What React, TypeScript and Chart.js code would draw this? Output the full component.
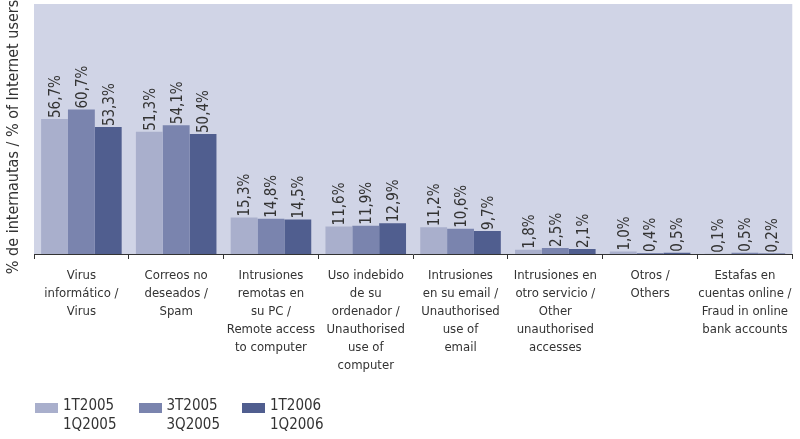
import React, { useEffect, useRef } from "react";
import { Chart, registerables } from "chart.js";

Chart.register(...registerables);

const categories: string[][] = [
  ["Virus", "informático /", "Virus"],
  ["Correos no", "deseados /", "Spam"],
  ["Intrusiones", "remotas en", "su PC /", "Remote access", "to computer"],
  ["Uso indebido", "de su", "ordenador /", "Unauthorised", "use of", "computer"],
  ["Intrusiones", "en su email /", "Unauthorised", "use of", "email"],
  ["Intrusiones en", "otro servicio /", "Other", "unauthorised", "accesses"],
  ["Otros /", "Others"],
  ["Estafas en", "cuentas online /", "Fraud in online", "bank accounts"],
];

const seriesLabels: string[][] = [
  ["1T2005", "1Q2005"],
  ["3T2005", "3Q2005"],
  ["1T2006", "1Q2006"],
];

const series1T2005: number[] = [56.7, 51.3, 15.3, 11.6, 11.2, 1.8, 1.0, 0.1];
const series3T2005: number[] = [60.7, 54.1, 14.8, 11.9, 10.6, 2.5, 0.4, 0.5];
const series1T2006: number[] = [53.3, 50.4, 14.5, 12.9, 9.7, 2.1, 0.5, 0.2];

const colors = ["#a9afcc", "#7a84ae", "#505e8f"];
const axisTitle = "% de internautas / % of Internet users";
const FONT = "'DejaVu Sans Condensed', 'DejaVu Sans', sans-serif";
const TEXT = "#333333";

const fmt = (v: number) => v.toFixed(1).replace(".", ",") + "%";

export default function App() {
  const ref = useRef<HTMLCanvasElement | null>(null);

  useEffect(() => {
    if (!ref.current) return;
    const bgPlugin = {
      id: "bg",
      beforeDraw(chart: any) {
        const { ctx, chartArea } = chart;
        ctx.save();
        ctx.fillStyle = "#d0d4e6";
        ctx.fillRect(chartArea.left, chartArea.top, chartArea.right - chartArea.left, chartArea.bottom - chartArea.top);
        ctx.restore();
      },
    };
    const labelPlugin = {
      id: "vals",
      afterDatasetsDraw(chart: any) {
        const { ctx } = chart;
        ctx.save();
        ctx.fillStyle = TEXT;
        ctx.font = `15px ${FONT}`;
        ctx.textAlign = "left";
        ctx.textBaseline = "middle";
        chart.data.datasets.forEach((ds: any, di: number) => {
          const meta = chart.getDatasetMeta(di);
          meta.data.forEach((bar: any, i: number) => {
            ctx.save();
            ctx.translate(bar.x + 1.5, bar.y - 1);
            ctx.rotate(-Math.PI / 2);
            ctx.fillText(fmt(ds.data[i]), 0, 0);
            ctx.restore();
          });
        });
        ctx.restore();
      },
    };
    const titlePlugin = {
      id: "ytitle",
      afterDraw(chart: any) {
        const { ctx, chartArea } = chart;
        ctx.save();
        ctx.fillStyle = TEXT;
        ctx.font = `16px ${FONT}`;
        ctx.textAlign = "center";
        ctx.textBaseline = "middle";
        ctx.translate(14, (chartArea.top + chartArea.bottom) / 2 + 8);
        ctx.rotate(-Math.PI / 2);
        ctx.fillText(axisTitle, 0, 0);
        ctx.restore();
      },
    };
    const chart = new Chart(ref.current, {
      type: "bar",
      data: {
        labels: categories,
        datasets: [
          { label: seriesLabels[0].join(" "), data: series1T2005, backgroundColor: colors[0] },
          { label: seriesLabels[1].join(" "), data: series3T2005, backgroundColor: colors[1] },
          { label: seriesLabels[2].join(" "), data: series1T2006, backgroundColor: colors[2] },
        ],
      },
      options: {
        responsive: false,
        animation: false,
        events: [],
        layout: { padding: { left: 34, right: 7, top: 4, bottom: 0 } },
        datasets: { bar: { categoryPercentage: 0.85, barPercentage: 1.0 } },
        plugins: { legend: { display: false }, tooltip: { enabled: false } },
        scales: {
          x: {
            afterFit: (s: any) => { s.height = 185; },
            grid: { offset: true, drawOnChartArea: false, drawTicks: true, tickLength: 5, color: TEXT, lineWidth: 1 },
            border: { display: true, color: TEXT, width: 1 },
            ticks: { color: TEXT, font: { family: FONT, size: 13, lineHeight: 1.38 }, padding: 8, maxRotation: 0, autoSkip: false },
          },
          y: { display: false, min: 0, max: 105 },
        },
      },
      plugins: [bgPlugin, labelPlugin, titlePlugin],
    });
    return () => chart.destroy();
  }, []);

  return (
    <div style={{ position: "fixed", left: 0, top: 0, width: 800, height: 439, background: "#fff" }}>
      <canvas ref={ref} width={800} height={439} style={{ display: "block" }} />
      <div style={{ position: "absolute", left: 35, top: 396, display: "flex", fontFamily: FONT, fontSize: 15, color: TEXT }}>
        {seriesLabels.map((l, i) => (
          <div key={i} style={{ display: "flex", width: 103.5, alignItems: "flex-start" }}>
            <div style={{ width: 23, height: 10, background: colors[i], marginTop: 7, marginRight: 5 }} />
            <div style={{ lineHeight: "19px" }}>{l[0]}<br />{l[1]}</div>
          </div>
        ))}
      </div>
    </div>
  );
}
